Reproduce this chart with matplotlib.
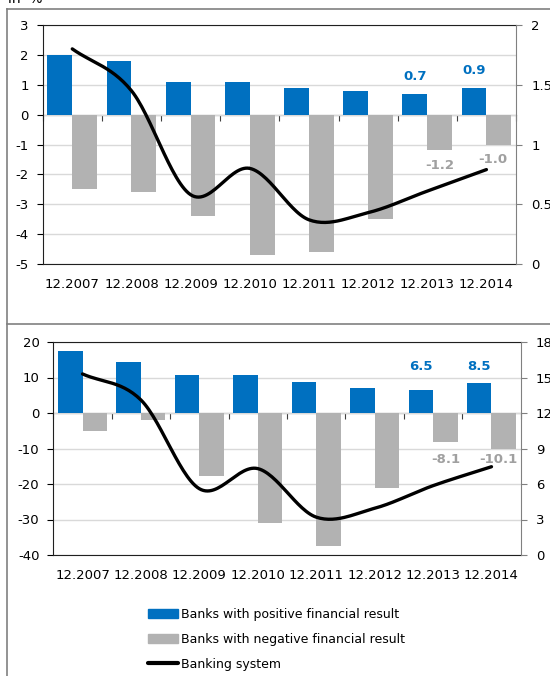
import matplotlib
matplotlib.use("Agg")
from matplotlib import pyplot as plt
from matplotlib.lines import Line2D
from matplotlib.patches import Patch
import numpy as np

# data
dates = ["12.2007", "12.2008", "12.2009", "12.2010", "12.2011", "12.2012", "12.2013", "12.2014"]

# top panel (ROA-like, in %)
top_pos = [2.0, 1.8, 1.1, 1.1, 0.9, 0.8, 0.7, 0.9]
top_neg = [-2.5, -2.6, -3.4, -4.7, -4.6, -3.5, -1.2, -1.0]
top_sys = [1.80, 1.45, 0.58, 0.80, 0.37, 0.43, 0.61, 0.79]

# bottom panel (ROE-like, in %)
bot_pos = [17.6, 14.5, 10.8, 10.6, 8.7, 7.0, 6.5, 8.5]
bot_neg = [-5.2, -1.9, -17.7, -30.9, -37.5, -21.2, -8.1, -10.1]
bot_sys = [15.3, 13.1, 5.6, 7.3, 3.2, 3.95, 5.86, 7.46]

legend_labels = [
    "Banks with positive financial result",
    "Banks with negative financial result",
    "Banking system",
]

BLUE = "#0070C0"
GREY = "#B2B2B2"
LBL_GREY = "#A0A0A0"
FRAME = "#808080"
W, H = 550, 676


def catmull_rom(x, y, n=30):
    # smooth line like the spreadsheet "smoothed line" option
    x = np.asarray(x, float)
    y = np.asarray(y, float)
    px = np.concatenate([[2 * x[0] - x[1]], x, [2 * x[-1] - x[-2]]])
    py = np.concatenate([[2 * y[0] - y[1]], y, [2 * y[-1] - y[-2]]])
    xs, ys = [], []
    t = np.linspace(0, 1, n)
    for i in range(1, len(px) - 2):
        for p, out in ((px, xs), (py, ys)):
            p0, p1, p2, p3 = p[i - 1], p[i], p[i + 1], p[i + 2]
            out.append(
                0.5
                * (
                    2 * p1
                    + (-p0 + p2) * t
                    + (2 * p0 - 5 * p1 + 4 * p2 - p3) * t**2
                    + (-p0 + 3 * p1 - 3 * p2 + p3) * t**3
                )
            )
    return np.concatenate(xs), np.concatenate(ys)


def panel(rect, pos, neg, sysv, ylim, yticks, rlim, rticks, labels):
    fig = plt.gcf()
    ax = fig.add_axes(rect)
    x = np.arange(len(dates))
    bw = 0.42
    ax.bar(x - bw / 2, pos, width=bw, color=BLUE, zorder=3)
    ax.bar(x + bw / 2, neg, width=bw, color=GREY, zorder=3)

    ax.set_xlim(-0.5, len(dates) - 0.5)
    ax.set_ylim(*ylim)
    ax.set_yticks(yticks)
    ax.set_yticklabels(["{:g}".format(v) for v in yticks])
    ax.set_xticks(x)
    ax.set_xticklabels(dates)
    ax.tick_params(axis="x", length=0, pad=10, labelsize=9.5)
    ax.tick_params(axis="y", length=4, pad=6, labelsize=9.5, direction="out")
    ax.grid(axis="y", color="#D9D9D9", lw=1, zorder=0)
    for s in ["left", "bottom", "top"]:
        ax.spines[s].set_color("#202020")
    ax.spines["right"].set_visible(False)

    # zero line with category ticks
    zloc = (0 - ylim[0]) / (ylim[1] - ylim[0])
    sec = ax.secondary_xaxis(zloc)
    sec.set_xticks(np.arange(-0.5, len(dates), 1.0))
    sec.set_xticklabels([])
    sec.tick_params(axis="x", direction="in", length=4, color="#404040")
    for s in sec.spines.values():
        s.set_color("#404040")

    # data labels
    for i, dx, dy in labels["pos"]:
        ax.annotate(
            "{:.1f}".format(pos[i]), (x[i] - bw / 2, pos[i]), xytext=(dx, dy),
            textcoords="offset points", ha="center", va="bottom",
            color=BLUE, fontsize=9.5, fontweight="bold", zorder=6,
        )
    for i, dx, dy in labels["neg"]:
        ax.annotate(
            "{:.1f}".format(neg[i]), (x[i] + bw / 2, neg[i]), xytext=(dx, dy),
            textcoords="offset points", ha="center", va="top",
            color=LBL_GREY, fontsize=9.5, fontweight="bold", zorder=6,
        )

    ax2 = ax.twinx()
    lx, ly = catmull_rom(x, sysv)
    ax2.plot(lx, ly, color="black", lw=2.4, solid_capstyle="round", zorder=5)
    ax2.set_ylim(*rlim)
    ax2.set_yticks(rticks)
    ax2.set_yticklabels(["{:g}".format(v) for v in rticks])
    ax2.tick_params(axis="y", length=4, pad=7, labelsize=9.5, color=FRAME)
    for s in ["left", "bottom", "top"]:
        ax2.spines[s].set_visible(False)
    ax2.spines["right"].set_color(FRAME)
    return ax, ax2


fig = plt.figure(figsize=(W / 100, H / 100), dpi=100)


def frac(l, r, t, b):
    return [l / W, 1 - b / H, (r - l) / W, (b - t) / H]


panel(
    frac(42.7, 516, 25, 264), top_pos, top_neg, top_sys,
    (-5, 3), list(range(-5, 4)), (0, 2), [0, 0.5, 1, 1.5, 2],
    {"pos": [(6, 0, 7.5), (7, 0, 7.5)], "neg": [(6, 0, -6), (7, -4, -6)]},
)
panel(
    frac(53.3, 520.7, 342, 555), bot_pos, bot_neg, bot_sys,
    (-40, 20), list(range(-40, 21, 10)), (0, 18), list(range(0, 19, 3)),
    {"pos": [(6, 0, 12), (7, 0, 7)], "neg": [(6, 0, -8), (7, -4, -3)]},
)

# frame around the panels
fl = dict(color=FRAME, lw=1.2, transform=fig.transFigure)
fig.add_artist(Line2D([7 / W, 1], [1 - 9 / H, 1 - 9 / H], **fl))
fig.add_artist(Line2D([7 / W, 7 / W], [1 - 9 / H, 0], **fl))
fig.add_artist(Line2D([7 / W, 1], [1 - 324 / H, 1 - 324 / H], **fl))
fig.text(8 / W, 1 - 3 / H, "in  %", fontsize=10, va="baseline")

handles = [
    Patch(color=BLUE),
    Patch(color=GREY),
    Line2D([], [], color="black", lw=3, solid_capstyle="round"),
]
fig.legend(
    handles, legend_labels, loc="upper left", bbox_to_anchor=(148 / W, 1 - 608 / H),
    frameon=False, fontsize=9, handlelength=2.4, handletextpad=0.25,
    labelspacing=0.95, borderpad=0, borderaxespad=0,
)

fig.savefig("out.png", dpi=100)
